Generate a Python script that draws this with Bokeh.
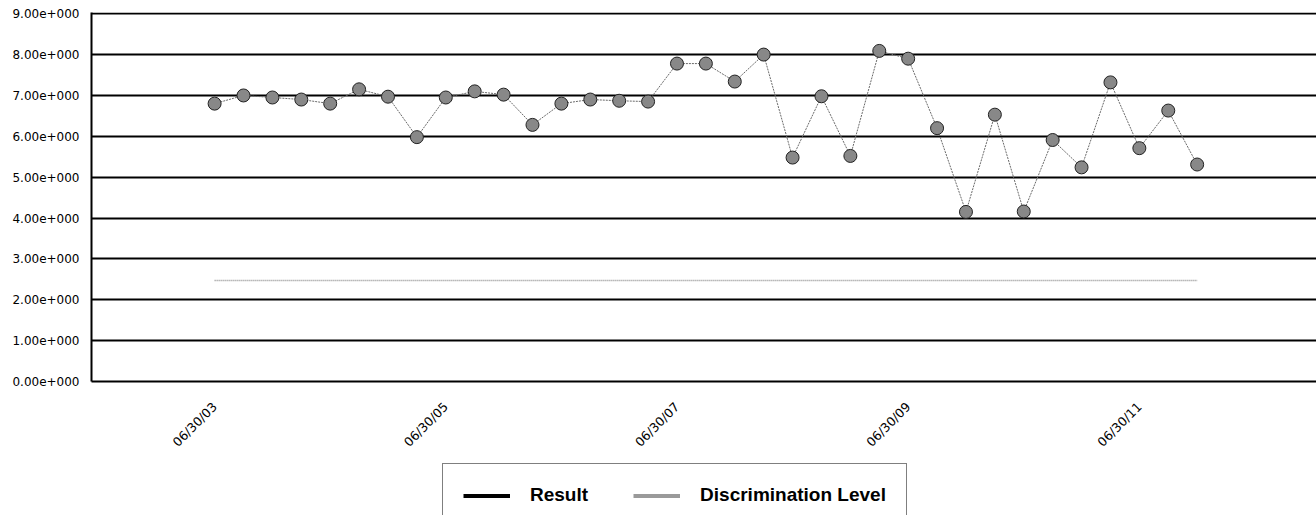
from bokeh.plotting import figure
from bokeh.models import Range1d, FixedTicker, Legend, LegendItem, ColumnDataSource
from bokeh.layouts import column
from bokeh.embed import file_html
from bokeh.resources import INLINE

# ---- data ----
result = [6.8, 7.0, 6.95, 6.9, 6.8, 7.15, 6.97, 5.98, 6.95, 7.1,
          7.02, 6.28, 6.8, 6.9, 6.87, 6.85, 7.78, 7.78, 7.34, 8.0,
          5.48, 6.98, 5.52, 8.09, 7.9, 6.2, 4.15, 6.53, 4.16, 5.91,
          5.24, 7.32, 5.71, 6.63, 5.31]
discrimination = [2.47] * len(result)
idx = list(range(len(result)))
tick_positions = [0, 8, 16, 24, 32]
tick_labels = ["06/30/03", "06/30/05", "06/30/07", "06/30/09", "06/30/11"]
y_ticks = list(range(0, 10))
y_labels = ["%d.00e+000" % v for v in y_ticks]
series_names = ["Result", "Discrimination Level"]

src = ColumnDataSource(dict(x=idx, r=result, d=discrimination))

p = figure(width=1316, height=460, output_backend="svg", toolbar_location=None,
           x_range=Range1d(-4.26, 38.13), y_range=Range1d(0, 9.03),
           min_border_left=91, min_border_right=0, min_border_top=12,
           min_border_bottom=79)
p.outline_line_color = None
p.background_fill_color = "white"
p.border_fill_color = "white"

# grid
p.xgrid.visible = False
p.ygrid.ticker = FixedTicker(ticks=y_ticks)
p.ygrid.grid_line_color = "black"
p.ygrid.grid_line_width = 2

# y axis
ya = p.yaxis[0]
ya.ticker = FixedTicker(ticks=y_ticks)
ya.major_label_overrides = {v: s for v, s in zip(y_ticks, y_labels)}
ya.major_label_text_font = "DejaVu Sans"
ya.major_label_text_font_size = "12px"
ya.major_label_text_color = "black"
ya.major_tick_out = 0
ya.major_tick_in = 0
ya.minor_tick_out = 0
ya.minor_tick_in = 0
ya.major_label_standoff = 12
ya.axis_line_color = "black"
ya.axis_line_width = 2

# x axis
xa = p.xaxis[0]
xa.ticker = FixedTicker(ticks=tick_positions)
xa.major_label_overrides = {v: s for v, s in zip(tick_positions, tick_labels)}
xa.major_label_orientation = 0.785398
xa.major_label_text_font = "DejaVu Sans"
xa.major_label_text_font_size = "12.5px"
xa.major_label_text_color = "black"
xa.major_tick_out = 0
xa.major_tick_in = 0
xa.minor_tick_out = 0
xa.minor_tick_in = 0
xa.major_label_standoff = 23
xa.axis_line_color = "black"
xa.axis_line_width = 2

# glyphs
p.line("x", "d", source=src, line_color="#8c8c8c", line_width=1.5, line_dash="1 1")
p.line("x", "r", source=src, line_color="#6a6a6a", line_width=1, line_dash="2 1")
p.scatter("x", "r", source=src, size=13, marker="circle",
          fill_color="#888888", line_color="#222222", line_width=1)

# ---- legend strip (proxy renderers lie outside this strip's visible range) ----
q = figure(width=1316, height=55, output_backend="svg", toolbar_location=None,
           x_range=Range1d(-200, -199), y_range=Range1d(-200, -199),
           min_border_left=0, min_border_right=0, min_border_top=0,
           min_border_bottom=0)
q.axis.visible = False
q.grid.visible = False
q.outline_line_color = None
q.background_fill_color = "white"
q.border_fill_color = "white"

r_res = q.line("x", "r", source=src, line_color="black", line_width=4)
r_dis = q.line("x", "d", source=src, line_color="#9a9a9a", line_width=4)

legend = Legend(items=[LegendItem(label=series_names[0], renderers=[r_res]),
                       LegendItem(label=series_names[1], renderers=[r_dis])],
                orientation="horizontal", location=(351, -12))
legend.border_line_color = "black"
legend.border_line_width = 1
legend.background_fill_color = "white"
legend.background_fill_alpha = 1
legend.label_text_font = "Liberation Sans"
legend.label_text_font_style = "bold"
legend.label_text_font_size = "19px"
legend.label_text_color = "black"
legend.glyph_width = 47
legend.glyph_height = 21
legend.label_height = 21
legend.label_standoff = 20
legend.spacing = 45
legend.padding = 20
legend.margin = 0
q.add_layout(legend, "center")

layout = column(p, q, spacing=0)
open("out.html", "w").write(file_html(layout, INLINE))
